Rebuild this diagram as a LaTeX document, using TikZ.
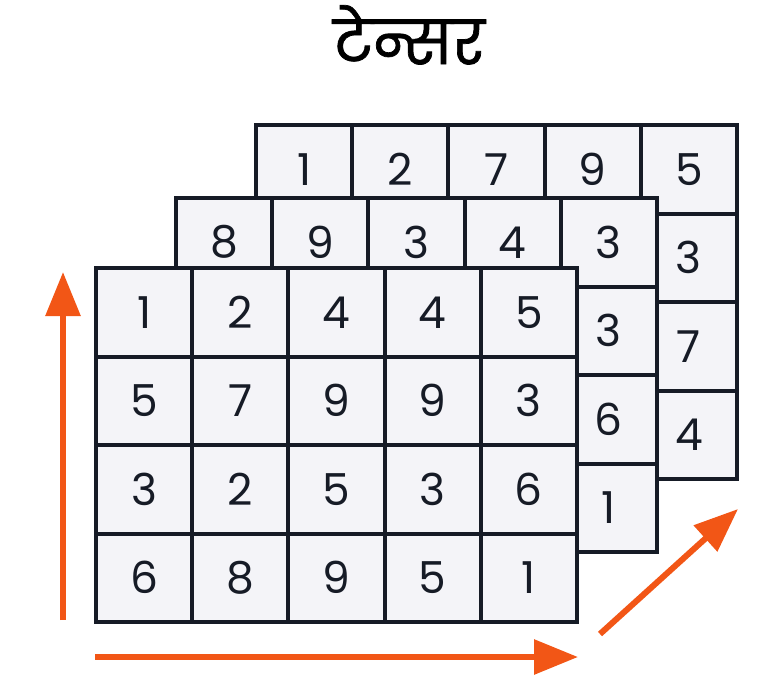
\documentclass[tikz,border=0pt]{standalone}
\usepackage{fontspec}
\usepackage{tikz}
\usetikzlibrary{arrows.meta}
\newfontfamily\digitfont{Poppins}
\newfontfamily\devafont[Script=Devanagari,FakeBold=1.2]{Poppins}
\definecolor{gridink}{RGB}{22,27,38}
\definecolor{cellfill}{RGB}{244,244,248}
\definecolor{axisorange}{RGB}{242,86,22}

\begin{document}
\begin{tikzpicture}[x=1pt,y=-1pt,
    cell/.style={rectangle,draw=gridink,fill=cellfill,line width=4pt,inner sep=0pt,
      minimum width=96.2pt,minimum height=88.5pt,text=gridink,
      font=\digitfont\fontsize{44}{44}\selectfont},
    axis/.style={draw=axisorange,line width=6pt,-{Triangle[length=44pt,width=34pt]}}]
        \useasboundingbox (0,0) rectangle (784,686);
        \node[font=\devafont\fontsize{60}{60}\selectfont,anchor=base] (title) at (409,64) {टेन्सर};
        % back slice
        \foreach \v [count=\c] in {1,2,7,9,5}
            \node[cell] (b-1-\c) at ({256+96.2*(\c-0.5)},{125+88.5*0.5}) {\v};
        \foreach \v [count=\r from 2] in {3,7,4} {
            \foreach \c in {1,...,4}
                \node[cell] (b-\r-\c) at ({256+96.2*(\c-0.5)},{125+88.5*(\r-0.5)}) {};
            \node[cell] (b-\r-5) at ({256+96.2*4.5},{125+88.5*(\r-0.5)}) {\v};
        }
        % middle slice
        \foreach \v [count=\c] in {8,9,3,4,3}
            \node[cell] (m-1-\c) at ({176+96.2*(\c-0.5)},{198+88.5*0.5}) {\v};
        \foreach \v [count=\r from 2] in {3,6,1} {
            \foreach \c in {1,...,4}
                \node[cell] (m-\r-\c) at ({176+96.2*(\c-0.5)},{198+88.5*(\r-0.5)}) {};
            \node[cell] (m-\r-5) at ({176+96.2*4.5},{198+88.5*(\r-0.5)}) {\v};
        }
        % front slice
        \foreach \r/\row in {1/{1,2,4,4,5},2/{5,7,9,9,3},3/{3,2,5,3,6},4/{6,8,9,5,1}}
            \foreach \v [count=\c] in \row
                \node[cell] (f-\r-\c) at ({96+96.2*(\c-0.5)},{268+88.5*(\r-0.5)}) {\v};
        % axes
        \coordinate (up-tail) at (63,620);
        \coordinate (up-head) at (63,272);
        \coordinate (right-tail) at (95,657);
        \coordinate (right-head) at (578,657);
        \coordinate (depth-tail) at (600,634);
        \coordinate (depth-head) at (738,509);
        \draw[axis] (up-tail) -- (up-head);
        \draw[axis] (right-tail) -- (right-head);
        \draw[axis] (depth-tail) -- (depth-head);
      \end{tikzpicture}
\end{document}
